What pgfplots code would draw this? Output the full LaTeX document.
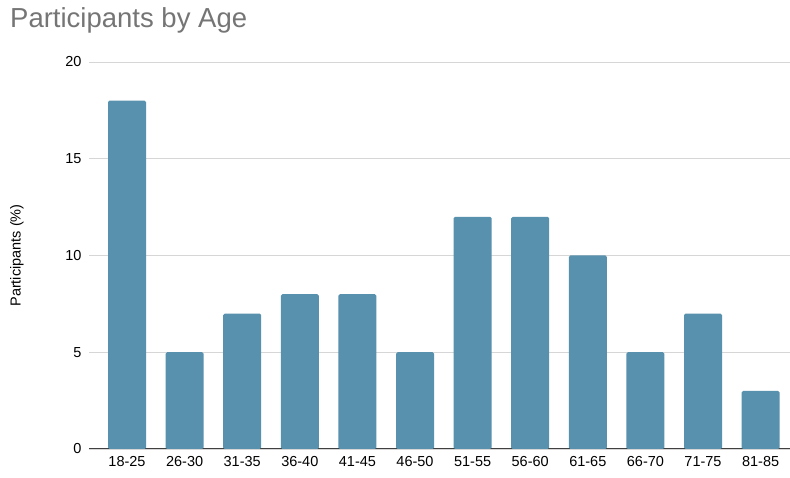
\documentclass[border=0pt]{standalone}
\usepackage{pgfplots}
\pgfplotsset{compat=1.18}
\usepackage{fontspec}
\setmainfont{Liberation Sans}
\definecolor{barblue}{RGB}{88,145,174}
\definecolor{gridgrey}{RGB}{214,214,214}
\definecolor{titlegrey}{RGB}{117,117,117}
\begin{document}
\begin{tikzpicture}[x=1pt,y=1pt]
\path[use as bounding box] (0,0) rectangle (790,478);
\node[anchor=base west, font=\fontsize{27.5}{32}\selectfont, text=titlegrey, inner sep=0] at (10,450) {Participants by Age};
\begin{axis}[
  at={(89pt,29pt)}, anchor=south west,
  scale only axis, width=701pt, height=387pt,
  ymin=0, ymax=20, ytick={0,5,10,15,20},
  xmin=-0.66, xmax=11.51,
  xtick=data,
  xticklabels={18-25,26-30,31-35,36-40,41-45,46-50,51-55,56-60,61-65,66-70,71-75,81-85},
  ymajorgrids, grid style={gridgrey, line width=0.9pt},
  axis x line*=bottom, axis y line*=left,
  y axis line style={draw=none},
  x axis line style={draw=black!75, line width=1pt, -},
  major tick length=0pt,
  tick label style={font=\fontsize{14.5}{17}\selectfont, text=black},
  /pgf/number format/assume math mode=true,
  yticklabel style={xshift=-4pt},
  xticklabel style={yshift=-4pt},
  ylabel={Participants (\%)},
  ylabel style={at={(axis description cs:-0.103,0.5)}, anchor=center, font=\fontsize{14.5}{17}\selectfont},
  ybar, bar width=38pt,
  clip=false,
]
\addplot[fill=barblue, draw=none, rounded corners=1.5pt] coordinates {
(0,18) (1,5) (2,7) (3,8) (4,8) (5,5) (6,12) (7,12) (8,10) (9,5) (10,7) (11,3)};
\end{axis}
\end{tikzpicture}
\end{document}
